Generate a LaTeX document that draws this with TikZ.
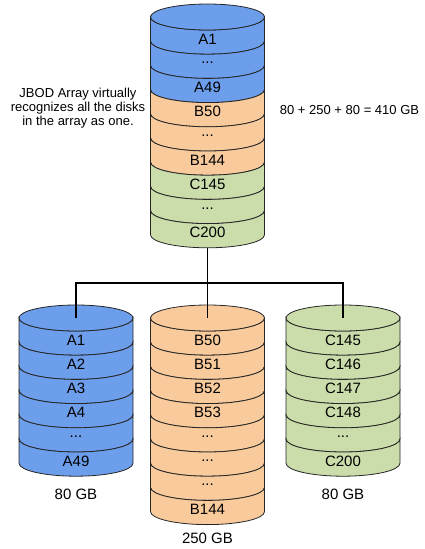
\documentclass[tikz,border=0pt]{standalone}
\usepackage{fontspec}
\setmainfont{Liberation Sans}
\usepackage{xcolor}
\usetikzlibrary{positioning}
\definecolor{diskblue}{HTML}{6D9EEB}
\definecolor{diskorange}{HTML}{F9CB9C}
\definecolor{diskgreen}{HTML}{CBDDAB}
\definecolor{rimgrey}{HTML}{262626}
\newcommand{\dskrx}{57}
\newcommand{\dskry}{13}
\newcommand{\dskh}{24.2}
% one slice of a disk stack: centre x, top-ellipse y, slice index, colour, label, node name
\newcommand{\diskslice}[6]{%
  \filldraw[fill=#4, draw=rimgrey, line width=0.8pt]
    (#1-\dskrx, #2+#3*\dskh) -- (#1-\dskrx, #2+#3*\dskh+\dskh)
    arc[start angle=180, end angle=0, x radius=\dskrx, y radius=\dskry]
    -- (#1+\dskrx, #2+#3*\dskh)
    arc[start angle=0, end angle=180, x radius=\dskrx, y radius=\dskry] -- cycle;
  \node[slicetext] (#6) at (#1, #2+#3*\dskh+0.5*\dskh+0.75*\dskry) {#5};
}
% lid of a disk stack: centre x, top-ellipse y, colour, coordinate name
\newcommand{\disklid}[4]{%
  \filldraw[fill=#3, draw=rimgrey, line width=0.8pt]
    (#1, #2) ellipse[x radius=\dskrx, y radius=\dskry];
  \coordinate (#4) at (#1, #2);
}

\begin{document}
\begin{tikzpicture}[x=1pt, y=-1pt,
    slicetext/.style={font=\fontsize{15}{17}\selectfont, inner sep=0pt},
    note/.style={font=\fontsize{13}{14}\selectfont, align=center, inner sep=0pt},
    sizelabel/.style={font=\fontsize{15}{17}\selectfont, inner sep=0pt},
    link/.style={draw=black, line width=1.3pt}]
  \useasboundingbox (0,0) rectangle (424,549);

  % the array as the host sees it
  \diskslice{207.5}{17}{0}{diskblue}{A1}{jbod1}
  \diskslice{207.5}{17}{1}{diskblue}{...}{jbod2}
  \diskslice{207.5}{17}{2}{diskblue}{A49}{jbod3}
  \diskslice{207.5}{17}{3}{diskorange}{B50}{jbod4}
  \diskslice{207.5}{17}{4}{diskorange}{...}{jbod5}
  \diskslice{207.5}{17}{5}{diskorange}{B144}{jbod6}
  \diskslice{207.5}{17}{6}{diskgreen}{C145}{jbod7}
  \diskslice{207.5}{17}{7}{diskgreen}{...}{jbod8}
  \diskslice{207.5}{17}{8}{diskgreen}{C200}{jbod9}
  \disklid{207.5}{17}{diskblue}{jbod-lid}
  \coordinate (jbod-foot) at (207.5, 17+9*\dskh+\dskry);

  % disk A
  \diskslice{76}{318}{0}{diskblue}{A1}{a1}
  \diskslice{76}{318}{1}{diskblue}{A2}{a2}
  \diskslice{76}{318}{2}{diskblue}{A3}{a3}
  \diskslice{76}{318}{3}{diskblue}{A4}{a4}
  \diskslice{76}{318}{4}{diskblue}{...}{a5}
  \diskslice{76}{318}{5}{diskblue}{A49}{a6}
  \disklid{76}{318}{diskblue}{diska-lid}

  % disk B
  \diskslice{207.5}{318}{0}{diskorange}{B50}{b1}
  \diskslice{207.5}{318}{1}{diskorange}{B51}{b2}
  \diskslice{207.5}{318}{2}{diskorange}{B52}{b3}
  \diskslice{207.5}{318}{3}{diskorange}{B53}{b4}
  \diskslice{207.5}{318}{4}{diskorange}{...}{b5}
  \diskslice{207.5}{318}{5}{diskorange}{...}{b6}
  \diskslice{207.5}{318}{6}{diskorange}{...}{b7}
  \diskslice{207.5}{318}{7}{diskorange}{B144}{b8}
  \disklid{207.5}{318}{diskorange}{diskb-lid}

  % disk C
  \diskslice{343}{318}{0}{diskgreen}{C145}{c1}
  \diskslice{343}{318}{1}{diskgreen}{C146}{c2}
  \diskslice{343}{318}{2}{diskgreen}{C147}{c3}
  \diskslice{343}{318}{3}{diskgreen}{C148}{c4}
  \diskslice{343}{318}{4}{diskgreen}{...}{c5}
  \diskslice{343}{318}{5}{diskgreen}{C200}{c6}
  \disklid{343}{318}{diskgreen}{diskc-lid}

  % tree from the array down to the disks
  \coordinate (bus) at (207.5, 283);
  \draw[link] (jbod-foot) -- (bus);
  \draw[link] (diska-lid) |- (bus) -| (diskc-lid);
  \draw[link] (bus) -- (diskb-lid);

  \node[note] (jbod-note) at (78, 108)
    {JBOD Array virtually\\recognizes all the disks\\in the array as one.};
  \node[note] (sum-note) at (349.5, 110.5) {80 + 250 + 80 = 410 GB};
  \node[sizelabel] (size-a) at (76, 494) {80 GB};
  \node[sizelabel] (size-b) at (207.5, 538) {250 GB};
  \node[sizelabel] (size-c) at (343, 494) {80 GB};
\end{tikzpicture}
\end{document}
